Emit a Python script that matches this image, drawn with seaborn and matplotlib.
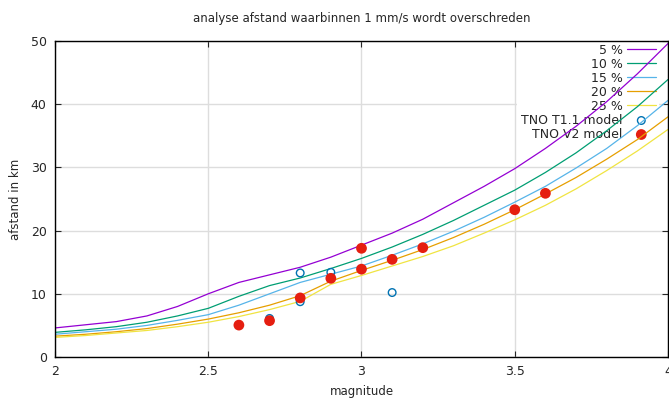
import matplotlib
matplotlib.use("Agg")
import matplotlib.pyplot as plt
import seaborn as sns

# magnitude grid used for all exceedance curves
magnitude = [2.0, 2.1, 2.2, 2.3, 2.4, 2.5, 2.6, 2.7, 2.8, 2.9, 3.0,
             3.1, 3.2, 3.3, 3.4, 3.5, 3.6, 3.7, 3.8, 3.9, 4.0]

# distance (km) per exceedance percentage
p05 = [4.6, 5.1, 5.6, 6.5, 8.0, 10.0, 11.8, 13.0, 14.2, 15.8, 17.7,
       19.6, 21.8, 24.4, 27.0, 29.8, 33.0, 36.5, 40.4, 44.8, 49.6]
p10 = [3.9, 4.3, 4.8, 5.5, 6.5, 7.7, 9.6, 11.3, 12.5, 14.0, 15.6,
       17.4, 19.4, 21.6, 24.0, 26.4, 29.2, 32.3, 35.8, 39.6, 43.9]
p15 = [3.6, 4.0, 4.4, 5.0, 5.8, 6.7, 8.2, 10.0, 11.8, 13.1, 14.4,
       16.1, 17.9, 19.9, 22.1, 24.5, 27.0, 29.9, 33.0, 36.6, 40.6]
p20 = [3.3, 3.6, 4.0, 4.5, 5.2, 6.0, 7.0, 8.2, 9.7, 12.0, 13.7,
       15.3, 17.0, 18.9, 21.0, 23.3, 25.8, 28.4, 31.3, 34.4, 38.0]
p25 = [3.1, 3.4, 3.8, 4.2, 4.8, 5.5, 6.4, 7.5, 8.8, 11.5, 12.9,
       14.4, 15.9, 17.6, 19.6, 21.7, 24.0, 26.6, 29.5, 32.6, 36.0]

curve_labels = ["5 %", "10 %", "15 %", "20 %", "25 %"]
curve_colors = ["#9400d3", "#009e73", "#56b4e9", "#e69f00", "#f0e442"]

# model results
t11_mag = [2.7, 2.8, 2.8, 2.9, 3.1]
t11_km = [6.1, 13.3, 8.75, 13.4, 10.2]
v2_mag = [2.6, 2.7, 2.8, 2.9, 3.0, 3.0, 3.1, 3.2, 3.5, 3.6]
v2_km = [5.05, 5.75, 9.35, 12.45, 17.2, 13.9, 15.45, 17.3, 23.3, 25.9]

sns.set_style("ticks")
plt.rcParams["font.family"] = ["DejaVu Sans"]

fig = plt.figure(figsize=(6.69, 4.01), dpi=100)
ax = fig.add_axes([0.0822, 0.1097, 0.9163, 0.7881])

for vals, lab, col in zip([p05, p10, p15, p20, p25], curve_labels, curve_colors):
    sns.lineplot(x=magnitude, y=vals, color=col, label=lab, linewidth=0.9, ax=ax, zorder=2)

sns.scatterplot(x=t11_mag, y=t11_km, marker="o", s=30, facecolors="none",
                edgecolor="#0072b2", linewidth=1.0, label="TNO T1.1 model", ax=ax, zorder=4)
sns.scatterplot(x=v2_mag, y=v2_km, marker="o", s=60, color="#e51e10",
                edgecolor="none", label="TNO V2 model", ax=ax, zorder=5)

ax.set_xlim(2, 4)
ax.set_ylim(0, 50)
ax.set_xticks([2, 2.5, 3, 3.5, 4])
ax.set_xticklabels(["2", "2.5", "3", "3.5", "4"])
ax.set_yticks([0, 10, 20, 30, 40, 50])
ax.grid(True, color="#dddddd", linewidth=1.0, zorder=0.5)
ax.set_axisbelow(True)
for sp in ax.spines.values():
    sp.set_visible(True)
    sp.set_color("black")
    sp.set_linewidth(1.0)
ax.tick_params(direction="in", top=True, right=True, length=4, width=0.8,
               labelsize=9, pad=6)

ax.set_title("analyse afstand waarbinnen 1 mm/s wordt overschreden", fontsize=8.5, pad=14)
ax.set_xlabel("magnitude", fontsize=8.5, labelpad=5)
ax.set_ylabel("afstand in km", fontsize=8.5, labelpad=6)

leg = ax.legend(loc="upper right", bbox_to_anchor=(0.986, 1.003), markerfirst=False,
                frameon=True, fontsize=9, handlelength=2.3, labelspacing=0.08,
                borderaxespad=0.0, handletextpad=0.35, borderpad=0.3)
leg.get_frame().set_edgecolor("none")
leg.get_frame().set_facecolor("white")
leg.get_frame().set_alpha(1)
leg.get_frame().set_boxstyle("square", pad=0)
# legend sits above the grid but below the curves, as in the original
leg.set_zorder(1.5)

fig.savefig("out.png", dpi=100)
